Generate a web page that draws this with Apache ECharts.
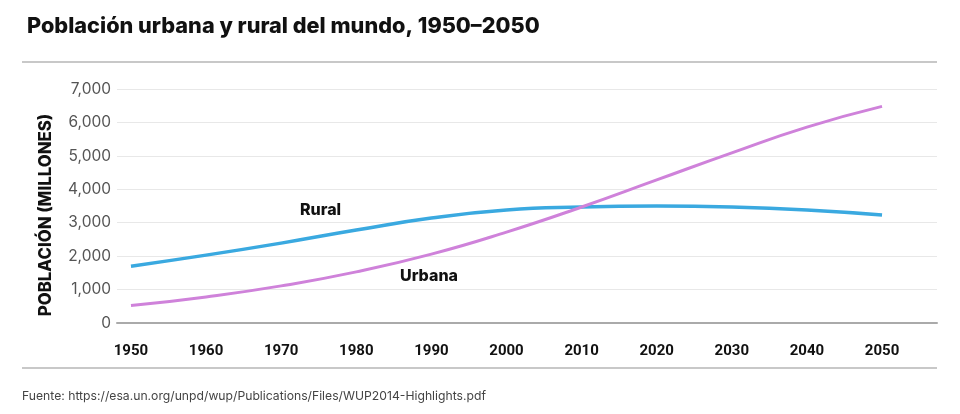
<!DOCTYPE html>
<html><head><meta charset="utf-8">
<script src="https://cdn.jsdelivr.net/npm/echarts@6/dist/echarts.min.js"></script>
<style>html,body{margin:0;padding:0;background:#fff}#c{width:960px;height:414px}</style>
</head><body><div id="c"></div>
<script>
const years = [1950,1960,1970,1980,1990,2000,2010,2020,2030,2040,2050];
const rural = [1700,2030,2390,2780,3140,3380,3470,3500,3470,3380,3230];
const urbana = [520,780,1110,1530,2060,2720,3470,4280,5090,5860,6480];
const yTicks = [0,1000,2000,3000,4000,5000,6000,7000];
const title = 'Población urbana y rural del mundo, 1950–2050';
const source = 'Fuente: https://esa.un.org/unpd/wup/Publications/Files/WUP2014-Highlights.pdf';

const chart = echarts.init(document.getElementById('c'));
const fmt = v => v === 0 ? '0' : v.toLocaleString('en-US');
chart.setOption({
  animation: false,
  title: {text: title, left: 22, top: 10, textStyle: {fontFamily: 'Inter', fontWeight: 800, fontSize: 21.7, color: '#111'}},
  grid: {left: 117, right: 23, top: 89, bottom: 91},
  xAxis: {
    type: 'value', min: 1948.14, max: 2057.32,
    splitLine: {show: false},
    axisLine: {show: true, lineStyle: {color: '#aaa', width: 2}},
    axisTick: {show: false},
    axisLabel: {customValues: years, margin: 21, formatter: v => String(v),
      fontFamily: '"Liberation Sans Narrow", "Roboto", sans-serif', fontWeight: 'bold', fontSize: 15, color: '#111'}
  },
  yAxis: {
    type: 'value', min: 0, max: 7000, interval: 1000,
    name: 'POBLACIÓN (MILLONES)', nameLocation: 'middle', nameGap: 63,
    nameTextStyle: {fontFamily: 'Inter', fontWeight: 800, fontSize: 16.8, color: '#111', padding: [0, 18, 0, 0]},
    axisLine: {show: false}, axisTick: {show: false},
    axisLabel: {margin: 6, fontFamily: 'Inter', fontSize: 15.5, color: '#555', formatter: fmt},
    splitLine: {lineStyle: {color: '#e8e8e8', width: 1}}
  },
  series: [
    {type: 'line', name: 'Rural', data: years.map((y,i)=>[y, rural[i]]), smooth: true, symbol: 'none',
     lineStyle: {color: '#3aa9e0', width: 3.5}},
    {type: 'line', name: 'Urbana', data: years.map((y,i)=>[y, urbana[i]]), smooth: true, symbol: 'none',
     lineStyle: {color: '#cf82da', width: 3}}
  ],
  graphic: [
    {type: 'line', shape: {x1: 22, y1: 62, x2: 937, y2: 62}, style: {stroke: '#c8c8c8', lineWidth: 2}},
    {type: 'line', shape: {x1: 22, y1: 368, x2: 937, y2: 368}, style: {stroke: '#c8c8c8', lineWidth: 2}},
    {type: 'text', left: 22, top: 390, style: {text: source, fontFamily: 'Inter', fontSize: 12.2, fill: '#444'}},
    {type: 'text', left: 300, top: 202, style: {text: 'Rural', fontFamily: 'Inter', fontWeight: 800, fontSize: 16, fill: '#111'}},
    {type: 'text', left: 400, top: 268, style: {text: 'Urbana', fontFamily: 'Inter', fontWeight: 800, fontSize: 16, fill: '#111'}}
  ]
});
</script></body></html>
